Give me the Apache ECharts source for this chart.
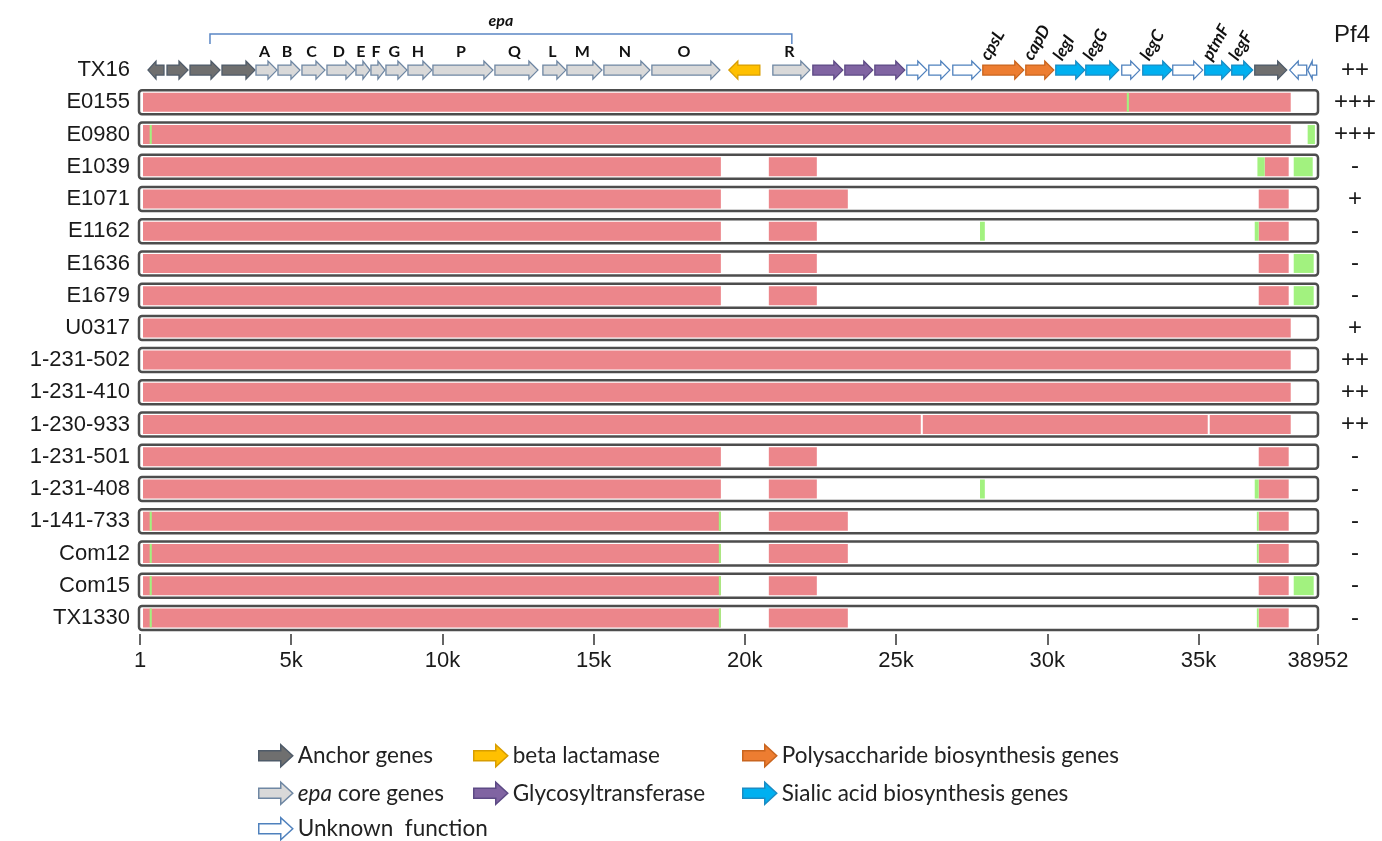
<!DOCTYPE html>
<html>
<head>
<meta charset="utf-8">
<title>epa locus comparison</title>
<script src="https://cdn.jsdelivr.net/npm/echarts@6/dist/echarts.min.js"></script>
<style>
  html, body { margin: 0; padding: 0; background: #fff; }
  #chart { width: 1382px; height: 841px; }
</style>
</head>
<body>
<div id="chart"></div>
<script>
// Strains (first row is the reference locus with its gene map)
const rows = ['TX16', 'E0155', 'E0980', 'E1039', 'E1071', 'E1162', 'E1636', 'E1679', 'U0317',
  '1-231-502', '1-231-410', '1-230-933', '1-231-501', '1-231-408', '1-141-733', 'Com12', 'Com15', 'TX1330'];
// Pf4 phage status per strain
const pf4 = ['++', '+++', '+++', '-', '+', '-', '-', '-', '+', '++', '++', '++', '-', '-', '-', '-', '-', '-'];

const locusLength = 38952;
const tickValues = [1, 5000, 10000, 15000, 20000, 25000, 30000, 35000, 38952];

// Genes: [start, end, strand, label]
const anchorGenes = [[264, 793, -1, ''], [893, 1587, 1, ''], [1653, 2645, 1, ''], [2711, 3802, 1, ''], [36860, 37917, 1, '']];
const epaCoreGenes = [
  [3835, 4529, 1, 'A'], [4562, 5289, 1, 'B'], [5355, 6116, 1, 'C'], [6182, 7107, 1, 'D'],
  [7140, 7603, 1, 'E'], [7636, 8099, 1, 'F'], [8132, 8826, 1, 'G'], [8860, 9653, 1, 'H'],
  [9686, 11669, 1, 'P'], [11736, 13157, 1, 'Q'], [13322, 14083, 1, 'L'], [14116, 15273, 1, 'M'],
  [15339, 16860, 1, 'N'], [16926, 19174, 1, 'O'], [20926, 22149, 1, 'R']];
const betaLactamaseGenes = [[19471, 20496, -1, '']];
const glycosyltransferaseGenes = [[22248, 23240, 1, ''], [23306, 24231, 1, ''], [24298, 25289, 1, '']];
const unknownGenes = [[25355, 26017, 1, ''], [26083, 26777, 1, ''], [26876, 27802, 1, ''],
  [32463, 33058, 1, ''], [34149, 35140, 1, ''], [38017, 38579, -1, ''], [38612, 38909, -1, '']];
const polysaccharideGenes = [[27868, 29223, 1, 'cpsL'], [29289, 30215, 1, 'capD']];
const sialicAcidGenes = [[30281, 31240, 1, 'legI'], [31273, 32364, 1, 'legG'], [33157, 34116, 1, 'legC'],
  [35207, 36066, 1, 'ptmF'], [36099, 36793, 1, 'legF']];

// epa cluster span
const epaSpan = [2314, 21554];

// Aligned regions per strain: [strain, start, end]
const pinkSegments = [
  ['E0155', 1, 38050],
  ['E0980', 1, 38050],
  ['E1039', 1, 19207], ['E1039', 20793, 22380], ['E1039', 37190, 37983],
  ['E1071', 1, 19207], ['E1071', 20793, 23405], ['E1071', 36992, 37983],
  ['E1162', 1, 19207], ['E1162', 20793, 22380], ['E1162', 36992, 37983],
  ['E1636', 1, 19207], ['E1636', 20793, 22380], ['E1636', 36992, 37983],
  ['E1679', 1, 19207], ['E1679', 20793, 22380], ['E1679', 36992, 37983],
  ['U0317', 1, 38050],
  ['1-231-502', 1, 38050],
  ['1-231-410', 1, 38050],
  ['1-230-933', 1, 25818], ['1-230-933', 25884, 35306], ['1-230-933', 35372, 38050],
  ['1-231-501', 1, 19207], ['1-231-501', 20793, 22380], ['1-231-501', 36992, 37983],
  ['1-231-408', 1, 19207], ['1-231-408', 20793, 22380], ['1-231-408', 36992, 37983],
  ['1-141-733', 1, 19207], ['1-141-733', 20793, 23405], ['1-141-733', 36992, 37983],
  ['Com12', 1, 19207], ['Com12', 20793, 23405], ['Com12', 36992, 37983],
  ['Com15', 1, 19207], ['Com15', 20793, 22380], ['Com15', 36992, 37983],
  ['TX1330', 1, 19207], ['TX1330', 20793, 23405], ['TX1330', 36992, 37983]
];
const greenSegments = [
  ['E0155', 32630, 32700],
  ['E0980', 320, 390], ['E0980', 38610, 38850],
  ['E1039', 36949, 37190], ['E1039', 38149, 38777],
  ['E1162', 27775, 27935], ['E1162', 36860, 36992],
  ['E1636', 38149, 38810],
  ['E1679', 38149, 38810],
  ['1-231-408', 27775, 27935], ['1-231-408', 36860, 36992],
  ['1-141-733', 320, 390], ['1-141-733', 19140, 19207], ['1-141-733', 36930, 36992],
  ['Com12', 320, 390], ['Com12', 19140, 19207], ['Com12', 36930, 36992],
  ['Com15', 320, 390], ['Com15', 19140, 19207], ['Com15', 38149, 38810],
  ['TX1330', 320, 390], ['TX1330', 19140, 19207], ['TX1330', 36930, 36992]
];

const FONT = "'Liberation Sans', Arial, sans-serif";
const LABEL_FONT = "Lato, 'Open Sans', sans-serif";
const BOX_HALF = 12;
const SEG_HALF = 9.5;

function arrowPoints(x1, x2, yc, strand) {
  const bodyH = 10, headH = 18;
  const hl = Math.min(9, (x2 - x1) * 0.5);
  const bt = yc - bodyH / 2, bb = yc + bodyH / 2, ht = yc - headH / 2, hb = yc + headH / 2;
  if (strand >= 0) {
    return [[x1, bt], [x2 - hl, bt], [x2 - hl, ht], [x2, yc], [x2 - hl, hb], [x2 - hl, bb], [x1, bb]];
  }
  return [[x2, bt], [x1 + hl, bt], [x1 + hl, ht], [x1, yc], [x1 + hl, hb], [x1 + hl, bb], [x2, bb]];
}

function geneSeries(name, genes, fill, stroke, labelMode) {
  return {
    type: 'custom',
    name: name,
    clip: false,
    z: 5,
    itemStyle: { color: fill, borderColor: stroke },
    data: genes.map(g => [g[0], g[1], 0]),
    encode: { x: [0, 1], y: 2 },
    renderItem: function (params, api) {
      const g = genes[params.dataIndex];
      const p1 = api.coord([g[0], 0]);
      const p2 = api.coord([g[1], 0]);
      const yc = p1[1];
      const children = [{
        type: 'polygon',
        shape: { points: arrowPoints(p1[0], p2[0], yc, g[2]) },
        style: { fill: fill, stroke: stroke, lineWidth: 1.3 }
      }];
      if (g[3] && labelMode === 'straight') {
        children.push({
          type: 'text',
          style: {
            text: g[3], x: (p1[0] + p2[0]) / 2 - 2, y: yc - 18,
            fill: '#111', font: "bold 16px " + LABEL_FONT, align: 'center', verticalAlign: 'middle'
          }
        });
      } else if (g[3] && labelMode === 'rotated') {
        children.push({
          type: 'text',
          x: p1[0] + 9, y: yc - 7,
          rotation: Math.PI / 3,
          style: {
            text: g[3], x: 0, y: 0,
            fill: '#111', font: "italic bold 17px " + LABEL_FONT, align: 'left', verticalAlign: 'bottom'
          }
        });
      }
      return { type: 'group', children: children };
    }
  };
}

function segmentSeries(name, segs, color, z) {
  return {
    type: 'custom',
    name: name,
    z: z,
    clip: false,
    data: segs.map(s => [s[1], s[2], rows.indexOf(s[0])]),
    encode: { x: [0, 1], y: 2 },
    renderItem: function (params, api) {
      const left = api.coord([0, 0])[0] + 3;
      const right = api.coord([locusLength, 0])[0] - 3;
      const p1 = api.coord([api.value(0), api.value(2)]);
      const p2 = api.coord([api.value(1), api.value(2)]);
      const x1 = Math.max(left, p1[0]);
      const x2 = Math.min(right, p2[0]);
      return {
        type: 'rect',
        shape: { x: x1, y: p1[1] - SEG_HALF, width: Math.max(1.5, x2 - x1), height: SEG_HALF * 2 },
        style: { fill: color }
      };
    }
  };
}

const arrowIcon = 'path://M0,6 L22,6 L22,0 L34,11 L22,22 L22,16 L0,16 Z';

const palette = {
  anchor: ['#6f6f6f', '#4f5b69'],
  epa: ['#d9d9d9', '#6f87a3'],
  beta: ['#ffc000', '#d89d00'],
  glyco: ['#8064a2', '#5d4a85'],
  unknown: ['#ffffff', '#4f81bd'],
  poly: ['#ed7d31', '#c9651f'],
  sialic: ['#00b0f0', '#1a8cc4']
};

function legendItem(name, key) {
  return { name: name, icon: arrowIcon,
    itemStyle: { color: palette[key][0], borderColor: palette[key][1], borderWidth: 1.5 } };
}

function legendBlock(left, top, items) {
  return {
    orient: 'vertical', left: left, top: top, padding: 0, itemWidth: 34, itemHeight: 22, itemGap: 14,
    selectedMode: false,
    textStyle: { fontFamily: LABEL_FONT, fontSize: 22.5, lineHeight: 22, color: '#222',
      rich: { i: { fontFamily: LABEL_FONT, fontSize: 22.5, lineHeight: 22, fontStyle: 'italic', color: '#222' } } },
    formatter: function (name) { return name === 'epa core genes' ? '{i|epa} core genes' : name; },
    data: items
  };
}

const chart = echarts.init(document.getElementById('chart'));
chart.setOption({
  animation: false,
  backgroundColor: '#ffffff',
  grid: { left: 140, right: 64, top: 54, bottom: 207 },
  xAxis: {
    type: 'value', min: 0, max: locusLength,
    axisLine: { show: false },
    splitLine: { show: false },
    axisTick: { show: true, customValues: tickValues, length: 11, lineStyle: { color: '#333', width: 1.5 } },
    axisLabel: {
      customValues: tickValues, margin: 16, fontSize: 22, fontFamily: FONT, color: '#1a1a1a',
      formatter: function (v) { return (v === 1 || v === locusLength) ? String(v) : (v / 1000) + 'k'; }
    }
  },
  yAxis: [{
    type: 'category', data: rows, inverse: true,
    axisLine: { show: false }, axisTick: { show: false }, splitLine: { show: false },
    axisLabel: { fontSize: 22, fontFamily: FONT, color: '#1a1a1a', margin: 10 }
  }, {
    type: 'category', data: rows, inverse: true, position: 'right',
    axisLine: { show: false }, axisTick: { show: false }, splitLine: { show: false },
    axisLabel: { fontSize: 24, fontFamily: FONT, color: '#1a1a1a', margin: 37, align: 'center',
      formatter: function (v, i) { return pf4[i]; } }
  }],
  graphic: [{
    type: 'text', left: 1334, top: 23,
    style: { text: 'Pf4', font: '24px ' + FONT, fill: '#1a1a1a' }
  }],
  legend: [
    legendBlock(258, 744, [legendItem('Anchor genes', 'anchor'), legendItem('epa core genes', 'epa')]),
    legendBlock(258, 817, [legendItem('Unknown  function', 'unknown')]),
    legendBlock(473, 744, [legendItem('beta lactamase', 'beta'), legendItem('Glycosyltransferase', 'glyco')]),
    legendBlock(742, 744, [legendItem('Polysaccharide biosynthesis genes', 'poly'), legendItem('Sialic acid biosynthesis genes', 'sialic')])
  ],
  series: [
    // strain boxes
    {
      type: 'custom', name: 'strains', z: 1, clip: false,
      data: rows.slice(1).map((r, i) => [0, locusLength, i + 1]),
      encode: { x: [0, 1], y: 2 },
      renderItem: function (params, api) {
        const p1 = api.coord([api.value(0), api.value(2)]);
        const p2 = api.coord([api.value(1), api.value(2)]);
        return {
          type: 'rect',
          shape: { x: p1[0] - 1, y: p1[1] - BOX_HALF, width: p2[0] - p1[0] + 1, height: BOX_HALF * 2, r: 3 },
          style: { fill: '#ffffff', stroke: '#4d4d4d', lineWidth: 2.5 }
        };
      }
    },
    segmentSeries('aligned', pinkSegments, '#ec868b', 2),
    segmentSeries('variant', greenSegments, '#a2f27f', 3),
    // epa cluster bracket
    {
      type: 'custom', name: 'epa', z: 4, clip: false,
      data: [[epaSpan[0], epaSpan[1], 0]],
      encode: { x: [0, 1], y: 2 },
      renderItem: function (params, api) {
        const p1 = api.coord([api.value(0), 0]);
        const p2 = api.coord([api.value(1), 0]);
        const yTop = p1[1] - 36, yEnd = p1[1] - 26;
        return {
          type: 'group', children: [{
            type: 'polyline',
            shape: { points: [[p1[0], yEnd], [p1[0], yTop], [p2[0], yTop], [p2[0], yEnd]] },
            style: { stroke: '#5b87c5', lineWidth: 1.5, fill: null }
          }, {
            type: 'text',
            style: { text: 'epa', x: (p1[0] + p2[0]) / 2, y: yTop - 13, fill: '#111',
              font: 'italic bold 16px ' + LABEL_FONT, align: 'center', verticalAlign: 'middle' }
          }]
        };
      }
    },
    geneSeries('Anchor genes', anchorGenes, palette.anchor[0], palette.anchor[1], 'none'),
    geneSeries('epa core genes', epaCoreGenes, palette.epa[0], palette.epa[1], 'straight'),
    geneSeries('beta lactamase', betaLactamaseGenes, palette.beta[0], palette.beta[1], 'none'),
    geneSeries('Glycosyltransferase', glycosyltransferaseGenes, palette.glyco[0], palette.glyco[1], 'none'),
    geneSeries('Unknown  function', unknownGenes, palette.unknown[0], palette.unknown[1], 'none'),
    geneSeries('Polysaccharide biosynthesis genes', polysaccharideGenes, palette.poly[0], palette.poly[1], 'rotated'),
    geneSeries('Sialic acid biosynthesis genes', sialicAcidGenes, palette.sialic[0], palette.sialic[1], 'rotated')
  ]
});
</script>
</body>
</html>
